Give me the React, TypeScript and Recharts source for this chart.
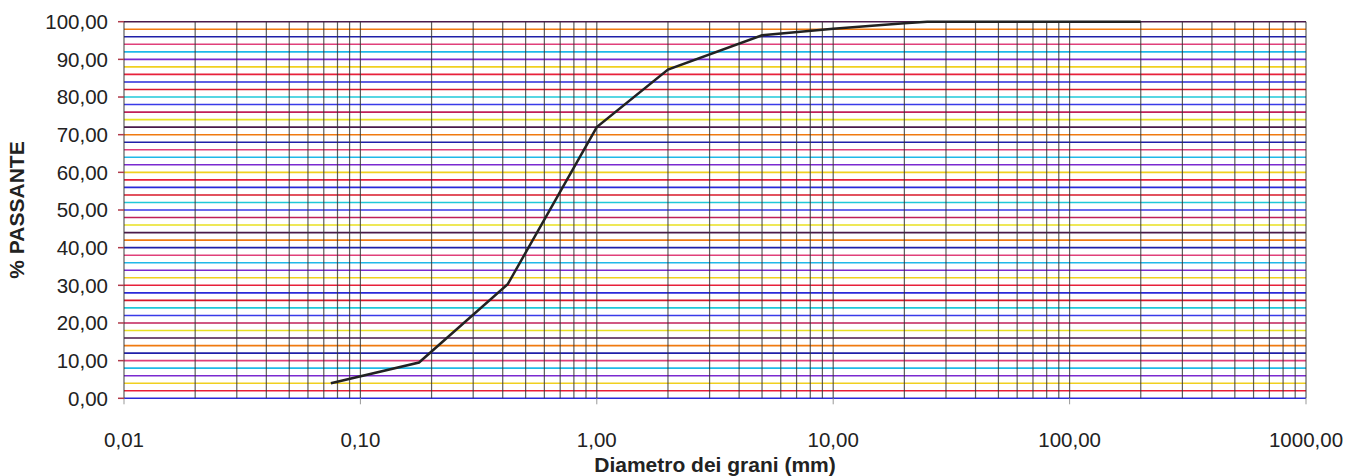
import { LineChart, Line, XAxis, YAxis, ReferenceLine, Label } from 'recharts'

// curva granulometrica
const diametri = [0.075, 0.177, 0.42, 1, 2, 5, 10, 20, 25, 200]
const passante = [4, 9.5, 30.3, 72, 87.3, 96.4, 98.1, 99.6, 100, 100]

const xTicks = [0.01, 0.1, 1, 10, 100, 1000]
const yTicks = [0, 10, 20, 30, 40, 50, 60, 70, 80, 90, 100]

// righe verticali della carta logaritmica (1..9 per decade)
const decadi = [0.01, 0.1, 1, 10, 100]
const moltiplicatori = [1, 2, 3, 4, 5, 6, 7, 8, 9]
const righeVerticali = [...decadi.flatMap(d => moltiplicatori.map(m => +(d * m).toPrecision(3))), 1000]

// righe orizzontali ogni 2%
const righeOrizzontali = Array.from({ length: 51 }, (_, i) => i * 2)

const COLORI_RIGHE = [
    '#2a2ad8', '#e8203a', '#f0d020', '#7a2ad0', '#20b8e8', '#e0407a', '#2020a8',
    '#f07a10', '#4a1a4a', '#e8e020', '#c0205a', '#3a3ae8', '#20c8d8', '#d8182a',
]

const data = diametri.map((d, i) => ({ d, p: passante[i] }))

const formatIt = (v: number, dec: number) => v.toFixed(dec).replace('.', ',')

export default function App() {
    return (
        <div style={{ position: 'absolute', left: 0, top: 0, width: 1347, height: 476, background: '#fff' }}>
            <LineChart
                width={1347}
                height={476}
                data={data}
                margin={{ top: 21.7, right: 41, bottom: 0, left: 0 }}
            >
                <XAxis
                    dataKey="d"
                    type="number"
                    scale="log"
                    domain={[0.01, 1000]}
                    ticks={xTicks}
                    allowDataOverflow
                    height={77.7}
                    axisLine={false}
                    tickSize={6}
                    tickMargin={28}
                    tickLine={{ stroke: '#999' }}
                    tick={{ fill: '#222', fontSize: 20.5, fontFamily: 'Liberation Sans, Arial, sans-serif' }}
                    tickFormatter={(v: number) => formatIt(v, 2)}
                >
                    <Label
                        content={({ viewBox }: any) => (
                            <text
                                x={viewBox.x + viewBox.width / 2}
                                y={viewBox.y + viewBox.height - 4}
                                textAnchor="middle"
                                fontSize={21}
                                fontWeight="bold"
                                fontFamily="Liberation Sans, Arial, sans-serif"
                                fill="#222"
                            >
                                Diametro dei grani (mm)
                            </text>
                        )}
                    />
                </XAxis>
                <YAxis
                    type="number"
                    domain={[0, 100]}
                    ticks={yTicks}
                    width={124}
                    axisLine={false}
                    tickSize={6}
                    tickMargin={10}
                    tickLine={{ stroke: '#b03a4a', strokeWidth: 1.5 }}
                    tick={{ fill: '#222', fontSize: 20.5, fontFamily: 'Liberation Sans, Arial, sans-serif' }}
                    tickFormatter={(v: number) => formatIt(v, 2)}
                >
                    <Label
                        content={({ viewBox }: any) => {
                            const cx = 24
                            const cy = viewBox.y + viewBox.height / 2
                            return (
                                <text
                                    x={cx}
                                    y={cy}
                                    transform={`rotate(-90 ${cx} ${cy})`}
                                    textAnchor="middle"
                                    fontSize={21}
                                    fontWeight="bold"
                                    fontFamily="Liberation Sans, Arial, sans-serif"
                                    fill="#222"
                                >
                                    % PASSANTE
                                </text>
                            )
                        }}
                    />
                </YAxis>

                {righeOrizzontali.map((v, i) => (
                    <ReferenceLine
                        key={`h-${v}`}
                        y={v}
                        stroke={COLORI_RIGHE[i % COLORI_RIGHE.length]}
                        strokeWidth={1.6}
                        ifOverflow="extendDomain"
                    />
                ))}
                {righeVerticali.map(v => (
                    <ReferenceLine
                        key={`v-${v}`}
                        x={v}
                        stroke="#333"
                        strokeOpacity={0.8}
                        strokeWidth={1.2}
                    />
                ))}

                <Line
                    type="linear"
                    dataKey="p"
                    stroke="#222"
                    strokeWidth={2.5}
                    dot={false}
                    isAnimationActive={false}
                />
            </LineChart>
        </div>
    )
}
